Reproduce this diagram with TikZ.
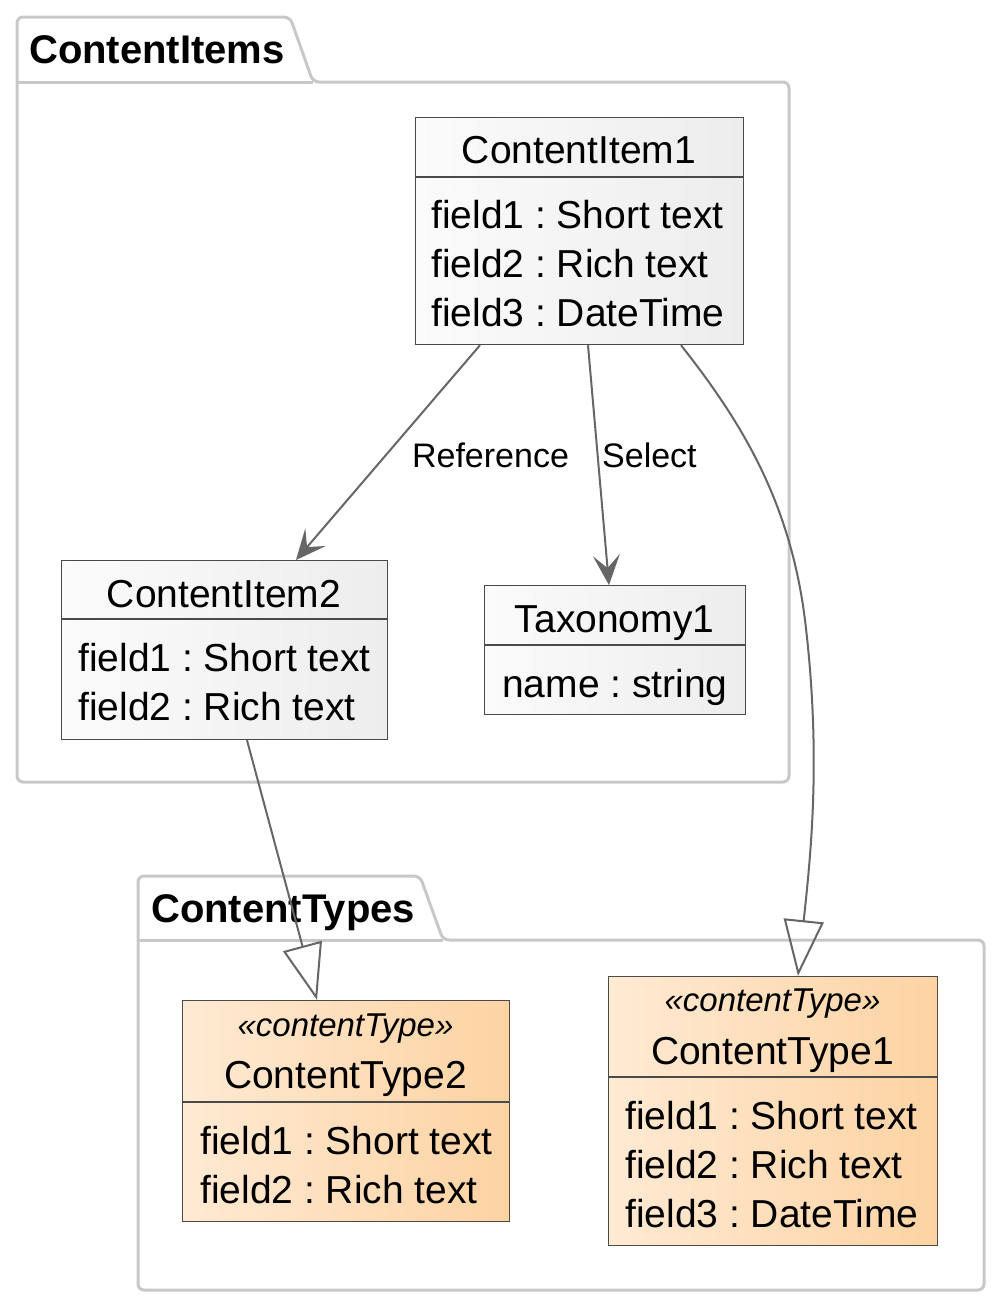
\documentclass[tikz,border=0pt]{standalone}
\usepackage{fontspec}
\setmainfont{Liberation Sans}
\frenchspacing
\usetikzlibrary{arrows.meta,calc}
\definecolor{pkg}{HTML}{C8C8C8}
\definecolor{arr}{HTML}{666666}
\definecolor{brd}{HTML}{4A4A4A}
\definecolor{itemL}{HTML}{FBFBFB}
\definecolor{itemR}{HTML}{EDEDED}
\definecolor{typeL}{HTML}{FFEAD3}
\definecolor{typeR}{HTML}{FDD3A3}
\begin{document}
\begin{tikzpicture}[x=1pt,y=-1pt,
  pkgline/.style={draw=pkg,line width=3pt,rounded corners=6pt},
  pkgsep/.style={draw=pkg,line width=3pt},
  pkgtitle/.style={font=\fontsize{40}{48}\selectfont\bfseries,inner sep=0pt,anchor=base west},
  boxbase/.style={draw=brd,line width=1.2pt,anchor=north west,inner sep=0pt},
  itembox/.style={boxbase,left color=itemL,right color=itemR},
  typebox/.style={boxbase,left color=typeL,right color=typeR},
  sepline/.style={draw=brd,line width=1.2pt},
  titletext/.style={font=\fontsize{39}{46}\selectfont,inner sep=0pt,anchor=base},
  fieldtext/.style={font=\fontsize{39}{46}\selectfont,inner sep=0pt,anchor=base west},
  stereo/.style={font=\fontsize{33}{40}\selectfont\itshape,inner sep=0pt,anchor=base},
  lbltext/.style={font=\fontsize{34}{40}\selectfont,inner sep=0pt},
  conn/.style={draw=arr,line width=2pt},
  assoc/.style={conn,-{Stealth[length=30pt,width=27pt,inset=13pt,fill=arr]}},
  inherit/.style={conn,-{Triangle[open,length=56pt,width=40pt]}}
]
\useasboundingbox (0,0) rectangle (1000,1307);

% ---- package ContentItems
\draw[pkgline] (17,782) -- (17,17) -- (290,17) -- (313,82) -- (789,82) -- (789,782) -- cycle;
\draw[pkgsep] (17,82) -- (313,82);
\node[pkgtitle] (pkgItems) at (29,63) {ContentItems};

% ---- package ContentTypes
\draw[pkgline] (138,1290) -- (138,876) -- (420,876) -- (443,940) -- (984,940) -- (984,1290) -- cycle;
\draw[pkgsep] (138,940) -- (443,940);
\node[pkgtitle] (pkgTypes) at (151,922) {ContentTypes};

% ---- ContentItem1
\node[itembox,minimum width=328pt,minimum height=227pt] (ci1) at (415,117) {};
\draw[sepline] ([yshift=-60pt]ci1.north west) -- ([yshift=-60pt]ci1.north east);
\node[titletext] (ci1t) at (579,163) {ContentItem1};
\node[fieldtext] (ci1a) at (431,228) {field1 : Short text};
\node[fieldtext] (ci1b) at (431,277) {field2 : Rich text};
\node[fieldtext] (ci1c) at (431,326) {field3 : DateTime};

% ---- ContentItem2
\node[itembox,minimum width=326pt,minimum height=179pt] (ci2) at (61,560) {};
\draw[sepline] ([yshift=-59pt]ci2.north west) -- ([yshift=-59pt]ci2.north east);
\node[titletext] (ci2t) at (224,607) {ContentItem2};
\node[fieldtext] (ci2a) at (78,671) {field1 : Short text};
\node[fieldtext] (ci2b) at (78,720) {field2 : Rich text};

% ---- Taxonomy1
\node[itembox,minimum width=261pt,minimum height=129pt] (tax) at (484,585) {};
\draw[sepline] ([yshift=-60pt]tax.north west) -- ([yshift=-60pt]tax.north east);
\node[titletext] (taxt) at (614.5,632) {Taxonomy1};
\node[fieldtext] (taxa) at (502,697) {name : string};

% ---- ContentType2
\node[typebox,minimum width=327pt,minimum height=221pt] (ct2) at (182,1000) {};
\draw[sepline] ([yshift=-102pt]ct2.north west) -- ([yshift=-102pt]ct2.north east);
\node[stereo] (ct2s) at (345.5,1036) {«contentType»};
\node[titletext] (ct2t) at (345.5,1088) {ContentType2};
\node[fieldtext] (ct2a) at (200,1154) {field1 : Short text};
\node[fieldtext] (ct2b) at (200,1203) {field2 : Rich text};

% ---- ContentType1
\node[typebox,minimum width=329pt,minimum height=269pt] (ct1) at (608,976) {};
\draw[sepline] ([yshift=-101pt]ct1.north west) -- ([yshift=-101pt]ct1.north east);
\node[stereo] (ct1s) at (772.5,1011) {«contentType»};
\node[titletext] (ct1t) at (772.5,1064) {ContentType1};
\node[fieldtext] (ct1a) at (625,1129) {field1 : Short text};
\node[fieldtext] (ct1b) at (625,1178) {field2 : Rich text};
\node[fieldtext] (ct1c) at (625,1227) {field3 : DateTime};

% ---- connectors
\draw[assoc] ([xshift=65pt]ci1.south west) -- ([xshift=235pt]ci2.north west);
\node[lbltext,anchor=base] (lref) at (490.5,467) {Reference};
\draw[assoc] ([xshift=173pt]ci1.south west) -- ([xshift=125pt]tax.north west);
\node[lbltext,anchor=base west] (lsel) at (602,467) {Select};
\draw[inherit] ([xshift=186pt]ci2.south west) -- ([xshift=135pt]ct2.north west);
\draw[inherit] ([xshift=266pt]ci1.south west) .. controls (740,420) and (790,500) .. (805,620)
   .. controls (822,760) and (810,860) .. ([xshift=190pt]ct1.north west);
\end{tikzpicture}
\end{document}
